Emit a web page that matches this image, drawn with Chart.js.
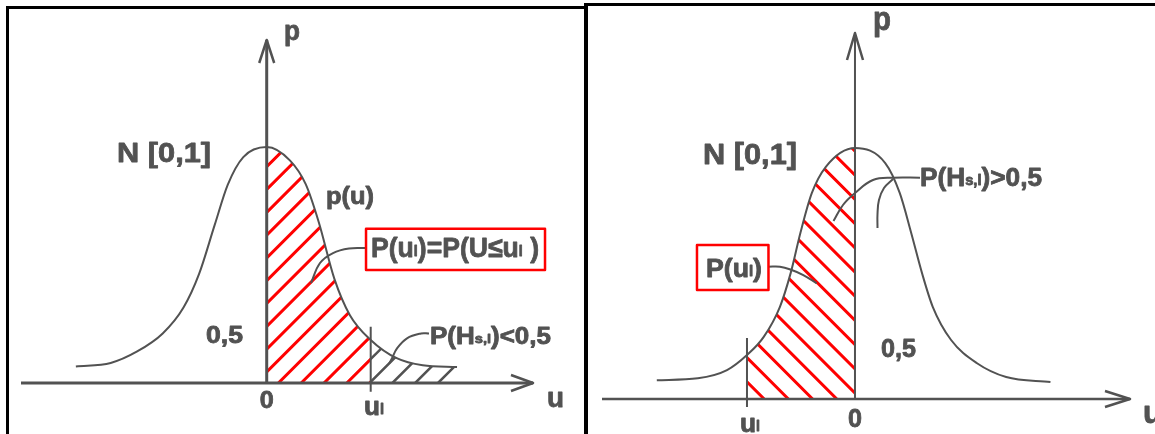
<!DOCTYPE html>
<html>
<head>
<meta charset="utf-8">
<script src="https://cdn.jsdelivr.net/npm/chart.js@4.4.1/dist/chart.umd.min.js"></script>
<style>
  html, body { margin: 0; padding: 0; background: #fff; }
  #stage { position: relative; width: 1155px; height: 434px; overflow: hidden; background: #fff; }
  #stage canvas { position: absolute; left: 0; top: 0; }
  .rule { position: absolute; background: #000; }
</style>
</head>
<body>
<div id="stage">
  <div class="rule" style="left:6px;top:6px;width:580px;height:3px"></div>
  <div class="rule" style="left:6px;top:6px;width:3px;height:428px"></div>
  <div class="rule" style="left:584px;top:3px;width:4px;height:431px"></div>
  <div class="rule" style="left:584px;top:3px;width:571px;height:3px"></div>
  <canvas id="leftPanel" width="1155" height="434" style="width:1155px;height:434px"></canvas>
  <canvas id="rightPanel" width="1155" height="434" style="width:1155px;height:434px"></canvas>
</div>
<script>
// ---- density p(u) of N[0,1], sampled along u ----
const leftU  = [-3.67, -3.0, -2.5, -2.0, -1.6, -1.3, -1.0, -0.75, -0.45, 0, 0.45, 0.75, 1.0, 1.3, 1.6, 2.0, 2.5, 3.0, 3.66];
const leftP  = [0.028, 0.034, 0.053, 0.084, 0.128, 0.185, 0.268, 0.336, 0.383, 0.400, 0.377, 0.337, 0.273, 0.177, 0.115, 0.073, 0.042, 0.030, 0.027];
const rightU = [-3.67, -2.91, -2.37, -2.0, -1.69, -1.39, -1.19, -1.01, -0.80, -0.54, 0, 0.56, 0.83, 1.04, 1.24, 1.44, 1.78, 2.26, 2.80, 3.62];
const rightP = [0.030, 0.033, 0.046, 0.070, 0.099, 0.147, 0.201, 0.265, 0.328, 0.370, 0.400, 0.376, 0.328, 0.265, 0.201, 0.147, 0.094, 0.057, 0.035, 0.027];

// quantile u_l in each case
const leftUl  = 2.0;
const rightUl = -2.0;

// leader lines from the captions to the areas
const leftBoxLeaderU   = [1.910, 1.583, 1.275, 1.025, 0.852];
const leftBoxLeaderP   = [0.2288, 0.2280, 0.2203, 0.2034, 0.1695];
const leftTailLeaderU  = [3.121, 2.967, 2.698, 2.506, 2.410, 2.358];
const leftTailLeaderP  = [0.0839, 0.0839, 0.0758, 0.0588, 0.0419, 0.0334];
const rightBoxLeaderU  = [-1.602, -1.389, -1.172, -0.957, -0.709];
const rightBoxLeaderP  = [0.2108, 0.2108, 0.2056, 0.1976, 0.1844];
const rightInLeaderU   = [1.204, 0.704, 0.333, 0, -0.222, -0.398];
const rightInLeaderP   = [0.3527, 0.3527, 0.3490, 0.3283, 0.3092, 0.2837];
const rightOutLeaderU  = [0.704, 0.537, 0.444, 0.417, 0.417];
const rightOutLeaderP  = [0.3506, 0.3363, 0.3171, 0.2948, 0.2725];

// axis and caption texts
const axisLabels = { origin: '0', u: 'u', p: 'p', quantile: 'u', sub: 'l' };
const titleText = 'N [0,1]';
const halfText = '0,5';

const INK = '#525252';
const RED = '#ff0000';
const FONT = '"Liberation Sans", Arial, sans-serif';

const zip = (us, ps) => us.map((u, i) => ({ x: u, y: ps[i] }));

function tracePath(ctx, pts) {
  ctx.moveTo(pts[0].x, pts[0].y);
  for (let i = 1; i < pts.length; i++) {
    const a = pts[i - 1], b = pts[i];
    if (a.cp2x !== undefined && b.cp1x !== undefined) {
      ctx.bezierCurveTo(a.cp2x, a.cp2y, b.cp1x, b.cp1y, b.x, b.y);
    } else {
      ctx.lineTo(b.x, b.y);
    }
  }
}

// diagonal hatching of the area under the density between two u values
function hatchPlugin(hatches) {
  return {
    id: 'hatch',
    beforeDatasetsDraw(chart) {
      const meta = chart.getDatasetMeta(0);
      const line = meta.dataset;
      if (line && line.updateControlPoints) line.updateControlPoints(chart.chartArea, 'x');
      const pts = meta.data;
      const { ctx, chartArea: a, scales: { x: xs, y: ys } } = chart;
      const x0 = xs.getPixelForValue(0), y0 = ys.getPixelForValue(0);
      for (const h of hatches) {
        const xa = xs.getPixelForValue(h.from), xb = xs.getPixelForValue(h.to);
        ctx.save();
        ctx.beginPath();
        tracePath(ctx, pts);
        ctx.lineTo(pts[pts.length - 1].x, y0);
        ctx.lineTo(pts[0].x, y0);
        ctx.closePath();
        ctx.clip();
        ctx.beginPath();
        ctx.rect(xa, a.top, xb - xa, y0 - a.top);
        ctx.clip();
        ctx.strokeStyle = h.color;
        ctx.lineWidth = h.width;
        ctx.lineCap = 'butt';
        ctx.beginPath();
        if (h.dir > 0) {
          // lines x + y = c
          const base = x0 + y0 + h.offset;
          const k0 = Math.floor((xa + a.top - base) / h.spacing) - 1;
          const k1 = Math.ceil((xb + y0 - base) / h.spacing) + 1;
          for (let k = k0; k <= k1; k++) {
            const c = base + k * h.spacing;
            ctx.moveTo(c - y0, y0);
            ctx.lineTo(c - a.top, a.top);
          }
        } else {
          // lines y - x = c
          const base = y0 - x0 + h.offset;
          const k0 = Math.floor((a.top - xb - base) / h.spacing) - 1;
          const k1 = Math.ceil((y0 - xa - base) / h.spacing) + 1;
          for (let k = k0; k <= k1; k++) {
            const c = base + k * h.spacing;
            ctx.moveTo(y0 - c, y0);
            ctx.lineTo(a.top - c, a.top);
          }
        }
        ctx.stroke();
        ctx.restore();
      }
    }
  };
}

// axes with arrows, framed captions and texts
function overlayPlugin(cfg) {
  return {
    id: 'overlay',
    afterDraw(chart) {
      const { ctx, chartArea: a, scales: { x: xs, y: ys } } = chart;
      const X = v => xs.getPixelForValue(v), Y = v => ys.getPixelForValue(v);
      const x0 = X(0), y0 = Y(0);
      ctx.save();
      ctx.strokeStyle = INK;
      ctx.lineCap = 'butt';
      ctx.lineWidth = cfg.axisX;
      ctx.beginPath(); ctx.moveTo(a.left, y0); ctx.lineTo(a.right, y0); ctx.stroke();
      ctx.lineWidth = cfg.axisY;
      ctx.beginPath(); ctx.moveTo(x0, a.top); ctx.lineTo(x0, y0); ctx.stroke();
      ctx.lineWidth = cfg.arrowW;
      ctx.lineJoin = 'round';
      ctx.beginPath();
      ctx.moveTo(a.right - cfg.arrowX[0], y0 - cfg.arrowX[1]);
      ctx.lineTo(a.right, y0);
      ctx.lineTo(a.right - cfg.arrowX[0], y0 + cfg.arrowX[1]);
      ctx.stroke();
      ctx.beginPath();
      ctx.moveTo(x0 - cfg.arrowY[1], a.top + cfg.arrowY[0]);
      ctx.lineTo(x0, a.top);
      ctx.lineTo(x0 + cfg.arrowY[1], a.top + cfg.arrowY[0]);
      ctx.stroke();

      // red frames
      ctx.strokeStyle = RED;
      ctx.lineWidth = 2.5;
      for (const b of cfg.boxes) {
        const bx = X(b.u0), by = Y(b.p0);
        ctx.strokeRect(bx, by, X(b.u1) - bx, Y(b.p1) - by);
      }

      // texts, slightly outlined for a heavier face
      ctx.fillStyle = INK;
      ctx.strokeStyle = INK;
      ctx.lineJoin = 'round';
      ctx.textBaseline = 'alphabetic';
      ctx.textAlign = 'left';
      for (const lb of cfg.labels) {
        const main = `bold ${lb.size}px ${FONT}`;
        const sub = `bold ${Math.round(lb.size * 0.55)}px ${FONT}`;
        let natural = 0;
        const widths = lb.runs.map(r => {
          ctx.font = r.sub ? sub : main;
          const w = ctx.measureText(r.t).width;
          natural += w;
          return w;
        });
        const sx = lb.width / natural;
        let px = X(lb.u);
        const py = Y(lb.p);
        if (lb.align === 'center') px -= lb.width / 2;
        ctx.save();
        ctx.translate(px, py);
        ctx.scale(sx, 1);
        ctx.lineWidth = 0.8;
        let cx = 0;
        lb.runs.forEach((r, i) => {
          ctx.font = r.sub ? sub : main;
          const dy = r.sub ? -1 : 0;
          ctx.fillText(r.t, cx, dy);
          ctx.strokeText(r.t, cx, dy);
          cx += widths[i];
        });
        ctx.restore();
      }
      ctx.restore();
    }
  };
}

function curveSet(us, ps) {
  return { data: zip(us, ps), borderColor: INK, borderWidth: 2, pointRadius: 0,
           cubicInterpolationMode: 'monotone', fill: false };
}
function leaderSet(us, ps) {
  return { data: zip(us, ps), borderColor: INK, borderWidth: 2, pointRadius: 0,
           tension: 0.4, fill: false };
}
function markSet(u, top, bottom) {
  return { data: [{ x: u, y: top }, { x: u, y: bottom }], borderColor: INK, borderWidth: 2,
           pointRadius: 0, tension: 0, fill: false, clip: false };
}

function panel(id, datasets, frame, plugins) {
  return new Chart(document.getElementById(id), {
    type: 'line',
    data: { datasets },
    options: {
      responsive: false,
      animation: false,
      events: [],
      layout: { padding: frame.padding },
      scales: {
        x: { type: 'linear', min: frame.xMin, max: frame.xMax, display: false },
        y: { type: 'linear', min: 0, max: frame.yMax, display: false }
      },
      plugins: { legend: { display: false }, tooltip: { enabled: false } }
    },
    plugins
  });
}

// ---- left panel: u_l > 0 ----
panel('leftPanel',
  [
    curveSet(leftU, leftP),
    markSet(leftUl, 0.0954, -0.0147),
    leaderSet(leftBoxLeaderU, leftBoxLeaderP),
    leaderSet(leftTailLeaderU, leftTailLeaderP)
  ],
  { padding: { left: 21, right: 622, top: 40, bottom: 51 }, xMin: -4.725, xMax: 5.121, yMax: 0.5814 },
  [
    hatchPlugin([
      { from: 0, to: leftUl, color: RED, width: 3, dir: 1, spacing: 22.8, offset: 11.7 },
      { from: leftUl, to: leftU[leftU.length - 1], color: INK, width: 2.5, dir: 1, spacing: 22.8, offset: 11.7 }
    ]),
    overlayPlugin({
      axisX: 3, axisY: 3, arrowW: 2.5, arrowX: [22, 8], arrowY: [23, 7.5],
      boxes: [{ u0: 1.910, p0: 0.2615, u1: 5.352, p1: 0.1915 }],
      labels: [
        { runs: [{ t: axisLabels.p }], u: 0.333, p: 0.5814, size: 28, width: 16 },
        { runs: [{ t: titleText }], u: -2.877, p: 0.3746, size: 28, width: 94 },
        { runs: [{ t: 'p(u)' }], u: 1.140, p: 0.3034, size: 24, width: 48 },
        { runs: [{ t: 'P(u' }, { t: 'l', sub: true }, { t: ')=P(U≤u' }, { t: 'l', sub: true }, { t: ' )' }],
          u: 2.006, p: 0.2136, size: 28, width: 168 },
        { runs: [{ t: halfText }], u: -1.167, p: 0.0678, size: 23, width: 37 },
        { runs: [{ t: 'P(H' }, { t: 's,l', sub: true }, { t: ')<0,5' }], u: 3.140, p: 0.0669, size: 23, width: 121 },
        { runs: [{ t: axisLabels.origin }], u: 0, p: -0.0424, size: 23, width: 14, align: 'center' },
        { runs: [{ t: axisLabels.quantile }, { t: axisLabels.sub, sub: true }], u: 1.871, p: -0.0542, size: 25, width: 20 },
        { runs: [{ t: axisLabels.u }], u: 5.39, p: -0.0407, size: 28, width: 17 }
      ]
    })
  ]
);

// ---- right panel: u_l < 0 ----
panel('rightPanel',
  [
    curveSet(rightU, rightP),
    markSet(rightUl, 0.0972, -0.0127),
    leaderSet(rightBoxLeaderU, rightBoxLeaderP),
    leaderSet(rightInLeaderU, rightInLeaderP),
    leaderSet(rightOutLeaderU, rightOutLeaderP)
  ],
  { padding: { left: 602, right: 25, top: 33, bottom: 35 }, xMin: -4.685, xMax: 5.093, yMax: 0.5833 },
  [
    hatchPlugin([
      { from: rightUl, to: 0, color: RED, width: 3, dir: -1, spacing: 24.2, offset: -6 }
    ]),
    overlayPlugin({
      axisX: 2.5, axisY: 2, arrowW: 2.5, arrowX: [25, 8], arrowY: [27, 8],
      boxes: [{ u0: -2.926, p0: 0.2454, u1: -1.602, p1: 0.1737 }],
      labels: [
        { runs: [{ t: axisLabels.p }], u: 0.333, p: 0.5873, size: 33, width: 18 },
        { runs: [{ t: titleText }], u: -2.815, p: 0.3753, size: 29, width: 94 },
        { runs: [{ t: 'P(H' }, { t: 's,l', sub: true }, { t: ')>0,5' }], u: 1.204, p: 0.3394, size: 25, width: 122 },
        { runs: [{ t: 'P(u' }, { t: 'l', sub: true }, { t: ')' }], u: -2.759, p: 0.1952, size: 25, width: 56 },
        { runs: [{ t: halfText }], u: 0.481, p: 0.0674, size: 25, width: 35 },
        { runs: [{ t: axisLabels.origin }], u: 0, p: -0.0446, size: 26, width: 14, align: 'center' },
        { runs: [{ t: axisLabels.quantile }, { t: axisLabels.sub, sub: true }], u: -2.130, p: -0.0526, size: 26, width: 20 },
        { runs: [{ t: axisLabels.u }], u: 5.333, p: -0.0387, size: 32, width: 19 }
      ]
    })
  ]
);
</script>
</body>
</html>
